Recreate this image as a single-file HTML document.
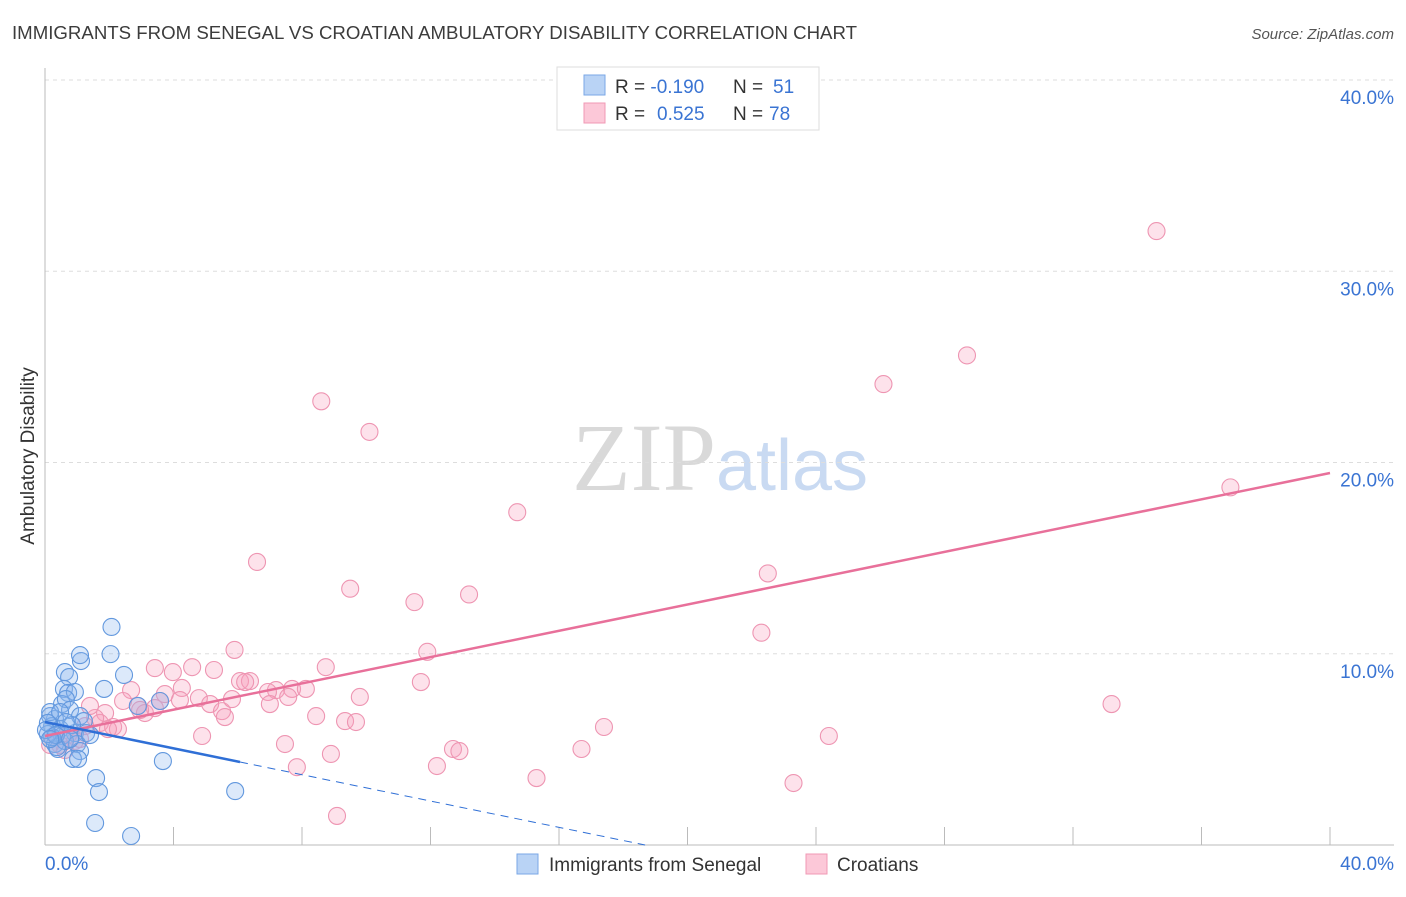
<!DOCTYPE html>
<html><head><meta charset="utf-8">
<style>
body{margin:0;background:#fff;font-family:"Liberation Sans",sans-serif;}
svg text{font-family:"Liberation Sans",sans-serif;}
</style></head>
<body>
<svg id="chart" width="1406" height="892" xmlns="http://www.w3.org/2000/svg">
<text x="12" y="39" font-size="18" fill="#3c3c3c" textLength="845" lengthAdjust="spacingAndGlyphs">IMMIGRANTS FROM SENEGAL VS CROATIAN AMBULATORY DISABILITY CORRELATION CHART</text>
<text x="1394" y="39" font-size="15" fill="#555" text-anchor="end" font-style="italic">Source: ZipAtlas.com</text>
<text x="720" y="490" font-size="96" text-anchor="middle"><tspan fill="#d9d9d9" font-family="Liberation Serif">ZIP</tspan><tspan fill="#c9daf2" font-size="72">atlas</tspan></text>
<g id="grid"></g>
<g id="axes"></g>
<g id="pink"></g>
<g id="blue"></g>
<g id="lines"></g>
<text transform="translate(34,456) rotate(-90)" font-size="19" fill="#333" text-anchor="middle">Ambulatory Disability</text>
<g>
<rect x="557" y="67" width="262" height="63" fill="#fff" stroke="#ddd"/>
<rect x="584" y="75" width="21" height="20" fill="#b9d3f5" stroke="#7aa7e6"/>
<rect x="584" y="103" width="21" height="20" fill="#fcc8d8" stroke="#f099b5"/>
<text x="615" y="93" font-size="19" fill="#333">R = <tspan fill="#3a74d3">-0.190</tspan><tspan x="733">N = </tspan><tspan fill="#3a74d3" x="773">51</tspan></text>
<text x="615" y="120" font-size="19" fill="#333">R = <tspan fill="#3a74d3" x="657">0.525</tspan><tspan x="733">N = </tspan><tspan fill="#3a74d3" x="769">78</tspan></text>
</g>
<g>
<rect x="517" y="854" width="21" height="20" fill="#b9d3f5" stroke="#7aa7e6"/>
<text x="549" y="871" font-size="19" fill="#333">Immigrants from Senegal</text>
<rect x="806" y="854" width="21" height="20" fill="#fcc8d8" stroke="#f099b5"/>
<text x="837" y="871" font-size="19" fill="#333">Croatians</text>
</g>
</svg>
<script>
const yTicks=[10,20,30,40];
const yTickLabels=["10.0%","20.0%","30.0%","40.0%"];
const blueX=[2.07,2.04,1.12,0.62,0.75,0.59,0.72,0.93,1.84,2.46,1.09,0.53,0.65,0.78,0.31,0.16,0.22,0.47,1.09,1.21,0.93,1.28,0.53,0.31,0.40,0.62,1.00,1.09,0.87,1.03,0.37,0.22,0.09,2.89,3.58,3.67,1.59,1.68,1.56,2.68,5.92,0.16,0.47,0.09,0.03,0.34,0.84,1.40,0.65,0.16,0.78];
const blueY=[11.4,9.98,9.62,9.04,8.78,8.16,7.95,8.0,8.16,8.89,9.93,7.37,7.63,7.06,6.59,6.74,6.22,6.06,6.74,6.48,5.85,5.85,5.70,5.28,5.02,5.44,5.28,4.91,4.50,4.50,5.12,5.64,5.80,7.27,7.53,4.39,3.50,2.77,1.15,0.47,2.82,6.95,6.95,6.38,6.01,5.75,6.27,5.75,6.43,5.54,5.54];
const pinkX=[34.6,28.7,26.1,8.6,10.1,14.7,36.9,6.6,22.5,9.5,11.5,13.2,22.3,11.9,5.9,3.42,3.98,4.58,5.26,8.74,11.7,4.26,3.73,4.79,6.07,6.38,7.19,7.69,8.12,9.80,6.94,7.57,2.68,2.43,2.89,3.11,3.42,5.14,5.51,5.82,7.0,3.58,1.87,1.71,2.12,1.56,2.27,5.60,8.44,9.34,9.68,17.4,24.4,33.2,4.89,7.47,8.90,12.7,12.9,16.7,7.84,12.2,15.3,23.3,9.09,1.40,1.25,0.93,0.47,0.31,0.72,0.62,1.09,0.16,1.96,2.96,4.20,6.23];
const pinkY=[32.1,25.6,24.1,23.2,21.6,17.4,18.7,14.8,14.2,13.4,12.7,13.1,11.1,10.1,10.2,9.25,9.04,9.3,9.15,9.3,8.52,8.21,7.89,7.68,8.57,8.57,8.10,8.16,8.16,7.74,8.0,7.74,8.10,7.53,7.27,6.90,7.16,7.37,7.0,7.63,7.37,7.53,6.90,6.38,6.17,6.64,6.06,6.69,6.74,6.48,6.43,6.17,5.70,7.37,5.70,5.28,4.76,5.02,4.91,5.02,4.07,4.13,3.50,3.24,1.52,7.27,6.22,5.44,5.23,5.75,5.75,4.97,5.54,5.23,6.06,7.06,7.58,8.52];
const pinkTrend=[5.7,19.45];
const blueTrend=[6.43,0];
const blueTrendEndX=18.68, blueSolidEndX=6.07;
const NS="http://www.w3.org/2000/svg";
const X=v=>45+v/40*1285, Y=v=>845-v/40*765;
function mk(t,a,p){const e=document.createElementNS(NS,t);for(const k in a)e.setAttribute(k,a[k]);p.appendChild(e);return e;}
const grid=document.getElementById('grid'),axes=document.getElementById('axes');
yTicks.forEach((t,i)=>{
 const l=mk('line',{x1:45,x2:1394,y1:Y(t),y2:Y(t),stroke:'#ddd','stroke-dasharray':'4,4'},grid);
 
 
 const tx=mk('text',{x:1394,y:Y(t)+24,'font-size':19,fill:'#3a74d3','text-anchor':'end'},axes);tx.textContent=yTickLabels[i];
 
 
});
mk('line',{x1:45,x2:45,y1:68,y2:845,stroke:'#bbb'},axes);
mk('line',{x1:45,x2:1394,y1:845,y2:845,stroke:'#bbb'},axes);
for(let i=1;i<=10;i++){const t=mk('line',{x1:X(i*4),x2:X(i*4),y1:827,y2:845,stroke:'#bbb'},axes);
 
 }
let a=mk('text',{x:45,y:870,'font-size':19,fill:'#3a74d3'},axes);a.textContent='0.0%';

a=mk('text',{x:1394,y:870,'font-size':19,fill:'#3a74d3','text-anchor':'end'},axes);a.textContent='40.0%';

function pts(xs,ys,g,fill,stroke,name){xs.forEach((x,i)=>{const c=mk('circle',{cx:X(x),cy:Y(ys[i]),r:8.5,fill:fill,stroke:stroke,'stroke-width':1.1},g);
 
 });}
pts(pinkX,pinkY,document.getElementById('pink'),'rgba(247,160,188,0.3)','#ee95b2','croatians-point');
pts(blueX,blueY,document.getElementById('blue'),'rgba(140,182,238,0.3)','#6298de','senegal-point');
const L=document.getElementById('lines');
let pl=mk('line',{x1:X(0),y1:Y(pinkTrend[0]),x2:X(40),y2:Y(pinkTrend[1]),stroke:'#e8709a','stroke-width':2.5},L);

const bs=v=>blueTrend[0]+(blueTrend[1]-blueTrend[0])*v/blueTrendEndX;
let b1=mk('line',{x1:X(0),y1:Y(bs(0)),x2:X(blueSolidEndX),y2:Y(bs(blueSolidEndX)),stroke:'#2f6fd6','stroke-width':2.5},L);

let b2=mk('line',{x1:X(blueSolidEndX),y1:Y(bs(blueSolidEndX)),x2:X(blueTrendEndX),y2:Y(bs(blueTrendEndX)),stroke:'#2f6fd6','stroke-width':1,'stroke-dasharray':'8,6'},L);

</script>
</body></html>
